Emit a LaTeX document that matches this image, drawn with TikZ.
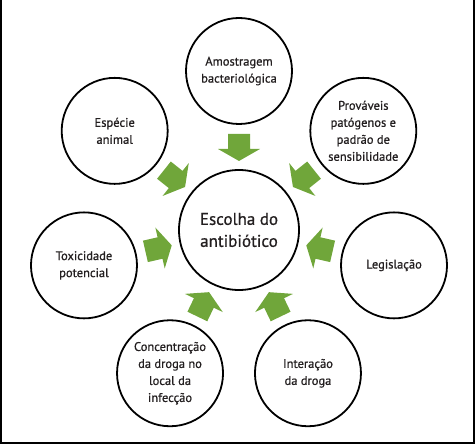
\documentclass[tikz,border=0pt]{standalone}
\usepackage{fontspec}
\setmainfont{PT Sans}[UprightFeatures={FakeBold=0.8}]
\usepackage{tikz}
\definecolor{VerdeSeta}{RGB}{112,166,58}
\definecolor{TextoEscuro}{RGB}{35,31,32}
\tikzset{
    fator/.style={circle, draw, line width=1.8pt, minimum size=106pt, inner sep=0pt,
        align=center, text=TextoEscuro, font=\fontsize{12.5}{17}\selectfont},
    central/.style={fator, minimum size=120pt, font=\fontsize{17}{22}\selectfont},
    seta/.style={fill=VerdeSeta},
}

\begin{document}
\begin{tikzpicture}[x=1pt,y=1pt]
    %%Frame
    \useasboundingbox (-239,-216) rectangle (237,230);
    \draw[line width=2pt] (-238,230) to (-238,-213) to (235,-213) to (235,230);
    %%Center
    \node[central] (escolha) at (0,0) {Escolha do\\antibiótico};
    %%Factors
    \node[fator] (amostragem) at (90:159) {Amostragem\\bacteriológica};
    \node[fator] (patogenos) at (38.57:159) {Prováveis\\patógenos e\\padrão de\\sensibilidade};
    \node[fator] (legislacao) at (-12.86:159) {Legislação};
    \node[fator] (interacao) at (-64.29:159) {Interação\\da droga};
    \node[fator] (concentracao) at (-115.71:159) {Concentração\\da droga no\\local da\\infecção};
    \node[fator] (toxicidade) at (-167.14:159) {Toxicidade\\potencial};
    \node[fator] (especie) at (141.43:159) {Espécie\\animal};
    %%Arrows
    \fill[seta, rotate=90] (96,-11) -- (81,-11) -- (81,-21) -- (69,0) -- (81,21) -- (81,11) -- (96,11) -- cycle;
    \fill[seta, rotate=38.57] (96,-11) -- (81,-11) -- (81,-21) -- (69,0) -- (81,21) -- (81,11) -- (96,11) -- cycle;
    \fill[seta, rotate=-12.86] (96,-11) -- (81,-11) -- (81,-21) -- (69,0) -- (81,21) -- (81,11) -- (96,11) -- cycle;
    \fill[seta, rotate=-64.29] (96,-11) -- (81,-11) -- (81,-21) -- (69,0) -- (81,21) -- (81,11) -- (96,11) -- cycle;
    \fill[seta, rotate=-115.71] (96,-11) -- (81,-11) -- (81,-21) -- (69,0) -- (81,21) -- (81,11) -- (96,11) -- cycle;
    \fill[seta, rotate=-167.14] (96,-11) -- (81,-11) -- (81,-21) -- (69,0) -- (81,21) -- (81,11) -- (96,11) -- cycle;
    \fill[seta, rotate=141.43] (96,-11) -- (81,-11) -- (81,-21) -- (69,0) -- (81,21) -- (81,11) -- (96,11) -- cycle;
\end{tikzpicture}
\end{document}
